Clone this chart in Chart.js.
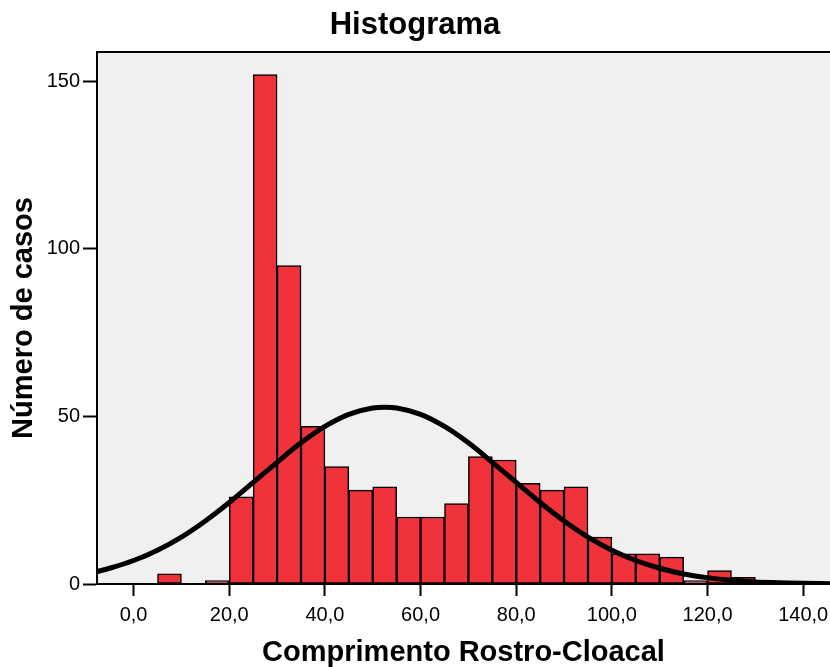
<!DOCTYPE html>
<html lang="pt">
<head>
  <meta charset="UTF-8">
  <title>Histograma</title>
  <script src="https://cdn.jsdelivr.net/npm/chart.js"></script>
  <style>
    body { margin: 0; background: #fff; }
    #wrap { width: 830px; height: 667px; }
  </style>
</head>
<body>
  <div id="wrap"><canvas id="hist"></canvas></div>

  <script>
    // Classes (início de cada intervalo) e frequências
    const binStart = [5, 15, 20, 25, 30, 35, 40, 45, 50, 55, 60, 65, 70, 75, 80, 85, 90, 95, 100, 105, 110, 115, 120, 125];
    const counts = [3, 1, 26, 152, 95, 47, 35, 28, 29, 20, 20, 24, 38, 37, 30, 28, 29, 14, 9, 9, 8, 1, 4, 2];
    const binWidth = 5;

    // Curva normal
    const curveX = [-7.65, -5, 0, 5, 10, 15, 20, 25, 30, 35, 40, 45, 50, 52.5, 55, 60, 65, 70, 75, 80, 85, 90, 95, 100, 105, 110, 115, 120, 125, 130, 135, 140, 145.6];
    const curveY = [3.7, 4.7, 7.0, 10.1, 14.0, 18.8, 24.3, 30.3, 36.3, 42.1, 47.0, 50.6, 52.5, 52.7, 52.5, 50.6, 47.0, 42.1, 36.3, 30.3, 24.3, 18.8, 14.0, 10.1, 7.0, 4.7, 3.0, 1.9, 1.1, 0.6, 0.4, 0.2, 0.1];

    // Marcas dos eixos
    const xTicks = [0, 20, 40, 60, 80, 100, 120, 140];
    const yTicks = [0, 50, 100, 150];

    Chart.defaults.font.family = '"Liberation Sans", Arial, Helvetica, sans-serif';
    Chart.defaults.color = '#000';

    // fundo cinza da área do gráfico + borda superior
    const plotFrame = {
      id: 'plotFrame',
      beforeDraw(chart) {
        const { ctx, chartArea: a } = chart;
        ctx.save();
        ctx.fillStyle = '#f0f0f0';
        ctx.fillRect(a.left, a.top, a.right - a.left, a.bottom - a.top);
        ctx.restore();
      },
      afterDraw(chart) {
        const { ctx, chartArea: a } = chart;
        ctx.save();
        ctx.strokeStyle = '#000';
        ctx.lineWidth = 2;
        ctx.beginPath();
        ctx.moveTo(a.left, a.top);
        ctx.lineTo(a.right, a.top);
        ctx.stroke();
        ctx.restore();
      }
    };

    new Chart(document.getElementById('hist'), {
      type: 'bar',
      data: {
        datasets: [
          {
            type: 'line',
            data: curveX.map((x, i) => ({ x: x, y: curveY[i] })),
            borderColor: '#000',
            borderWidth: 5,
            pointRadius: 0,
            cubicInterpolationMode: 'monotone',
            order: 0
          },
          {
            type: 'bar',
            data: binStart.map((s, i) => ({ x: s + binWidth / 2, y: counts[i] })),
            backgroundColor: '#f0323b',
            borderColor: '#000',
            borderWidth: 1.5,
            borderSkipped: false,
            barPercentage: 1,
            categoryPercentage: 1,
            order: 1
          }
        ]
      },
      options: {
        responsive: true,
        maintainAspectRatio: false,
        animation: false,
        layout: { padding: 0 },
        plugins: {
          legend: { display: false },
          tooltip: { enabled: false },
          title: {
            display: true,
            text: 'Histograma',
            font: { size: 31, weight: 'bold', lineHeight: 1 },
            padding: { top: 10, bottom: 11 }
          }
        },
        scales: {
          x: {
            type: 'linear',
            min: -7.65,
            max: 145.6,
            offset: false,
            afterBuildTicks: s => { s.ticks = xTicks.map(v => ({ value: v })); },
            afterFit: s => { s.height = 83; s.paddingLeft = 0; s.paddingRight = 0; },
            ticks: {
              autoSkip: false,
              maxRotation: 0,
              padding: 7,
              font: { size: 20 },
              callback: v => v.toFixed(1).replace('.', ',')
            },
            grid: { drawOnChartArea: false, offset: false, tickLength: 12, tickWidth: 2, tickColor: '#000' },
            border: { color: '#000', width: 2 },
            title: {
              display: true,
              text: 'Comprimento Rostro-Cloacal',
              font: { size: 29, weight: 'bold', lineHeight: 1 },
              padding: { top: 0, bottom: 0 }
            }
          },
          y: {
            min: 0,
            max: 158.7,
            afterBuildTicks: s => { s.ticks = yTicks.map(v => ({ value: v })); },
            afterFit: s => { s.width = 97; },
            ticks: { padding: 3, font: { size: 20 } },
            grid: { drawOnChartArea: false, tickLength: 14, tickWidth: 2, tickColor: '#000' },
            border: { color: '#000', width: 2 },
            title: {
              display: true,
              text: 'Número de casos',
              font: { size: 29, weight: 'bold', lineHeight: 1 },
              padding: { top: 9, bottom: 0 }
            }
          }
        }
      },
      plugins: [plotFrame]
    });
  </script>
</body>
</html>
